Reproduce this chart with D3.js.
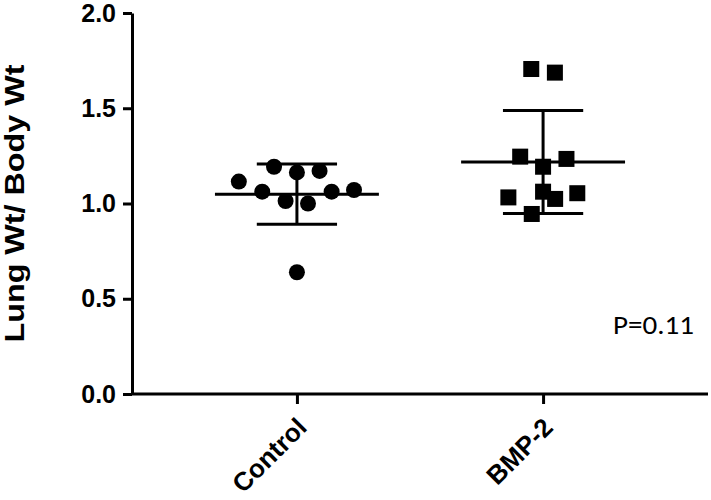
<!DOCTYPE html>
<html>
<head>
<meta charset="utf-8">
<script src="https://cdn.jsdelivr.net/npm/d3@7"></script>
<style>
  html, body { margin: 0; padding: 0; background: #fff; }
  svg { display: block; }
</style>
</head>
<body>
<svg id="chart" width="711" height="500"></svg>
<script>
// ---- data ----
const categories = ["Control", "BMP-2"];
const controlValues = [1.115, 1.193, 1.163, 1.171, 1.062, 1.013, 1.000, 1.062, 1.071, 0.639];
const bmp2Values    = [1.706, 1.687, 1.246, 1.234, 1.193, 1.062, 1.032, 1.024, 1.054, 0.945];
// horizontal scatter offsets (fraction of category step) as seen in the picture
const controlJitter = [-0.236, -0.093, 0.000, 0.092, -0.141, -0.046, 0.045, 0.141, 0.232, 0.000];
const bmp2Jitter    = [-0.048, 0.048, -0.093, 0.095, 0.000, 0.000, -0.141, 0.049, 0.139, -0.046];
const yTicks = [0.0, 0.5, 1.0, 1.5, 2.0];
const yLabel = "Lung Wt/ Body Wt";
const pText = "P=0.11";

const groups = [
  { name: categories[0], values: controlValues, jitter: controlJitter, shape: "circle" },
  { name: categories[1], values: bmp2Values, jitter: bmp2Jitter, shape: "square" }
];

// ---- layout ----
const svg = d3.select("#chart");
const mLeft = 132, mRight = 708, mTop = 13, mBottom = 394;

const x = d3.scalePoint().domain(categories).range([mLeft, mRight]).padding(0.67);
const y = d3.scaleLinear().domain([0, 2]).range([mBottom, mTop]);
const step = x.step();

const font = "'Liberation Sans', Arial, Helvetica, sans-serif";

// y axis
const yAxis = svg.append("g")
  .attr("transform", `translate(${mLeft},0)`)
  .call(d3.axisLeft(y).tickValues(yTicks).tickFormat(d3.format(".1f")).tickSize(9).tickSizeOuter(0).tickPadding(7));
yAxis.select(".domain").attr("stroke", "#000").attr("stroke-width", 3);
yAxis.selectAll(".tick line").attr("stroke", "#000").attr("stroke-width", 3);
yAxis.selectAll(".tick text")
  .attr("font-family", font).attr("font-size", 25).attr("font-weight", "bold").attr("fill", "#000");

// x axis
const xAxis = svg.append("g")
  .attr("transform", `translate(0,${mBottom})`)
  .call(d3.axisBottom(x).tickSize(10).tickSizeOuter(0));
xAxis.select(".domain").attr("stroke", "#000").attr("stroke-width", 3)
  .attr("d", `M${mLeft},0H${mRight}`);
xAxis.selectAll(".tick line").attr("stroke", "#000").attr("stroke-width", 3);
xAxis.selectAll(".tick text")
  .attr("font-family", font).attr("font-size", 26).attr("font-weight", "bold").attr("fill", "#000")
  .attr("text-anchor", "end")
  .attr("x", null).attr("y", null).attr("dy", null)
  .attr("transform", "translate(11,35) rotate(-45)");

// y label
svg.append("text")
  .attr("transform", `translate(24,${(mTop + mBottom) / 2}) rotate(-90)`)
  .attr("text-anchor", "middle")
  .attr("font-family", font).attr("font-size", 27).attr("font-weight", "bold")
  .attr("textLength", 278).attr("lengthAdjust", "spacingAndGlyphs")
  .text(yLabel);

// error bars (mean +/- SD)
groups.forEach(g => {
  const cx = x(g.name);
  const m = d3.mean(g.values), sd = d3.deviation(g.values);
  const eb = svg.append("g").attr("stroke", "#000").attr("stroke-width", 3);
  eb.append("line").attr("x1", cx).attr("x2", cx).attr("y1", y(m + sd)).attr("y2", y(m - sd));
  eb.append("line").attr("x1", cx - step * 0.333).attr("x2", cx + step * 0.333).attr("y1", y(m)).attr("y2", y(m));
  eb.append("line").attr("x1", cx - step * 0.163).attr("x2", cx + step * 0.163).attr("y1", y(m + sd)).attr("y2", y(m + sd));
  eb.append("line").attr("x1", cx - step * 0.163).attr("x2", cx + step * 0.163).attr("y1", y(m - sd)).attr("y2", y(m - sd));
});

// points
groups.forEach(g => {
  const pts = g.values.map((v, i) => ({ v, j: g.jitter[i] }));
  const cx = x(g.name);
  if (g.shape === "circle") {
    svg.append("g").selectAll("circle").data(pts).join("circle")
      .attr("cx", d => cx + d.j * step).attr("cy", d => y(d.v)).attr("r", 8).attr("fill", "#000");
  } else {
    const s = 16;
    svg.append("g").selectAll("rect").data(pts).join("rect")
      .attr("x", d => cx + d.j * step - s / 2).attr("y", d => y(d.v) - s / 2)
      .attr("width", s).attr("height", s).attr("fill", "#000");
  }
});

// P value annotation
svg.append("text")
  .attr("x", 613).attr("y", 334)
  .attr("font-family", "Carlito, Calibri, 'Open Sans', 'Liberation Sans', sans-serif")
  .attr("font-size", 26)
  .attr("textLength", 81).attr("lengthAdjust", "spacingAndGlyphs")
  .text(pText);
</script>
</body>
</html>
